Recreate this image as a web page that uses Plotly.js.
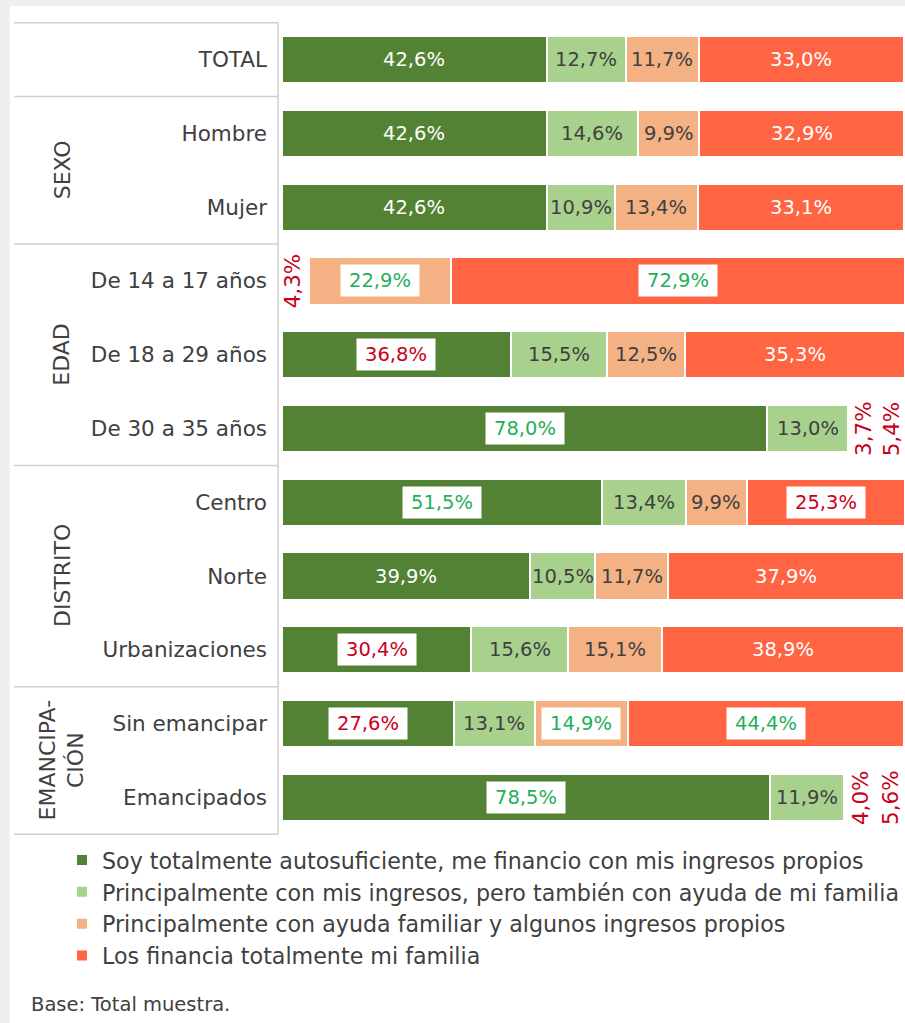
<!DOCTYPE html>
<html>
<head>
<meta charset="utf-8">
<script src="https://cdn.plot.ly/plotly-3.0.1.min.js"></script>
<style>
  html, body { margin: 0; padding: 0; background: #efefef; width: 905px; height: 1023px; overflow: hidden; }
  #chart { position: absolute; left: 10px; top: 6px; width: 895px; height: 1017px; background: #ffffff; }
</style>
</head>
<body>
<div id="chart"></div>
<script>
// ---------------- DATA ----------------
const categories = ['TOTAL', 'Hombre', 'Mujer', 'De 14 a 17 años', 'De 18 a 29 años', 'De 30 a 35 años',
  'Centro', 'Norte', 'Urbanizaciones', 'Sin emancipar', 'Emancipados'];

const seriesNames = [
  'Soy totalmente autosuficiente, me financio con mis ingresos propios',
  'Principalmente con mis ingresos, pero también con ayuda de mi familia',
  'Principalmente con ayuda familiar y algunos ingresos propios',
  'Los financia totalmente mi familia'
];

const autosuficiente = [42.6, 42.6, 42.6, 4.3, 36.8, 78.0, 51.5, 39.9, 30.4, 27.6, 78.5];
const ingresosConAyuda = [12.7, 14.6, 10.9, null, 15.5, 13.0, 13.4, 10.5, 15.6, 13.1, 11.9];
const ayudaConIngresos = [11.7, 9.9, 13.4, 22.9, 12.5, 3.7, 9.9, 11.7, 15.1, 14.9, 4.0];
const familia = [33.0, 32.9, 33.1, 72.9, 35.3, 5.4, 25.3, 37.9, 38.9, 44.4, 5.6];

const groupLabels = ['SEXO', 'EDAD', 'DISTRITO', 'EMANCIPA-<br>CIÓN'];
const footerText = 'Base: Total muestra.';

// ---------------- STYLE ----------------
const seriesValues = [autosuficiente, ingresosConAyuda, ayudaConIngresos, familia];
const seriesColors = ['#548235', '#a9d18e', '#f4b183', '#ff6443'];
// label style per row and series: w = white text, g = grey text, R = red boxed, G = green boxed, r = red rotated, '' = none
const labelStyle = [
  ['w', 'g', 'g', 'w'],
  ['w', 'g', 'g', 'w'],
  ['w', 'g', 'g', 'w'],
  ['r', '', 'G', 'G'],
  ['R', 'g', 'g', 'w'],
  ['G', 'g', 'r', 'r'],
  ['G', 'g', 'g', 'R'],
  ['w', 'g', 'g', 'w'],
  ['R', 'g', 'g', 'w'],
  ['R', 'g', 'G', 'G'],
  ['G', 'g', 'r', 'r']
];
const groupRowPos = [1.5, 4, 7, 9.5];
const separatorRows = [-0.5, 0.5, 2.5, 5.5, 8.5, 10.5];

const FONT = 'DejaVu Sans, Verdana, sans-serif';
const TXT = '#404040';
const RED = '#c8001a';
const GREEN = '#1fb05a';

const traces = seriesValues.map((vals, s) => {
  const colors = vals.map((v, i) => labelStyle[i][s] === 'r' ? 'rgba(0,0,0,0)' : seriesColors[s]);
  const lineColors = vals.map((v, i) => labelStyle[i][s] === 'r' ? 'rgba(0,0,0,0)' : '#ffffff');
  return {
    type: 'bar',
    orientation: 'h',
    name: seriesNames[s],
    y: categories,
    x: vals,
    marker: { color: colors, line: { color: lineColors, width: 2 } },
    hoverinfo: 'skip'
  };
});

const fmt = v => v.toFixed(1).replace('.', ',') + '%';

const annotations = [];
categories.forEach((cat, i) => {
  let cum = 0;
  seriesValues.forEach((vals, s) => {
    const v = vals[i];
    if (v === null || v === undefined) return;
    const mid = cum + v / 2;
    cum += v;
    const st = labelStyle[i][s];
    if (!st) return;
    const a = {
      x: mid, y: cat, xref: 'x', yref: 'y', text: fmt(v), showarrow: false,
      xanchor: 'center', yanchor: 'middle',
      font: { family: FONT, size: 19.5, color: TXT }
    };
    if (st === 'w') a.font.color = '#ffffff';
    if (st === 'g') a.font.color = TXT;
    if (st === 'R' || st === 'G') {
      a.font.color = st === 'R' ? RED : GREEN;
      a.bgcolor = '#ffffff';
      a.borderpad = 4;
      a.width = 70;
    }
    if (st === 'r') {
      a.font.color = RED;
      a.font.size = 21.5;
      a.textangle = -90;
      a.xshift = s >= 2 ? 4 : -2;
    }
    annotations.push(a);
  });
});

const px = p => (p - 282) / 622; // page x to paper x

groupLabels.forEach((g, k) => {
  annotations.push({
    x: px(62), xref: 'paper', y: groupRowPos[k], yref: 'y', text: g, showarrow: false,
    textangle: -90, xanchor: 'center', yanchor: 'middle',
    font: { family: FONT, size: 22, color: TXT }
  });
});

annotations.push({
  x: px(29), xref: 'paper', xanchor: 'left', y: -0.208, yref: 'paper', yanchor: 'middle',
  text: footerText, showarrow: false, font: { family: FONT, size: 19.5, color: TXT }
});

const shapes = separatorRows.map(r => ({
  type: 'line', xref: 'paper', yref: 'y', x0: px(14), x1: px(278), y0: r, y1: r,
  line: { color: '#cfcfcf', width: 1.5 }
}));
shapes.push({
  type: 'line', xref: 'paper', yref: 'y', x0: px(278), x1: px(278), y0: -0.5, y1: 10.5,
  line: { color: '#cfcfcf', width: 1.5 }
});

const layout = {
  width: 895, height: 1017,
  margin: { l: 272, r: 1, t: 16, b: 188 },
  paper_bgcolor: '#ffffff', plot_bgcolor: '#ffffff',
  barmode: 'stack', bargap: 0.36,
  font: { family: FONT, color: TXT },
  xaxis: { range: [0, 100], showgrid: false, zeroline: false, showticklabels: false, ticks: '', fixedrange: true },
  yaxis: {
    type: 'category', autorange: 'reversed', showgrid: false, zeroline: false, showline: false,
    ticks: '', ticklabelstandoff: 14, tickfont: { family: FONT, size: 21.5, color: TXT }, fixedrange: true
  },
  showlegend: true,
  legend: {
    orientation: 'v', x: px(63), xanchor: 'left', y: -0.005, yanchor: 'top',
    font: { family: FONT, size: 22.2, color: TXT }, bgcolor: 'rgba(0,0,0,0)', traceorder: 'normal'
  },
  annotations: annotations,
  shapes: shapes
};

Plotly.newPlot('chart', traces, layout, { displayModeBar: false, staticPlot: true });
</script>
</body>
</html>
